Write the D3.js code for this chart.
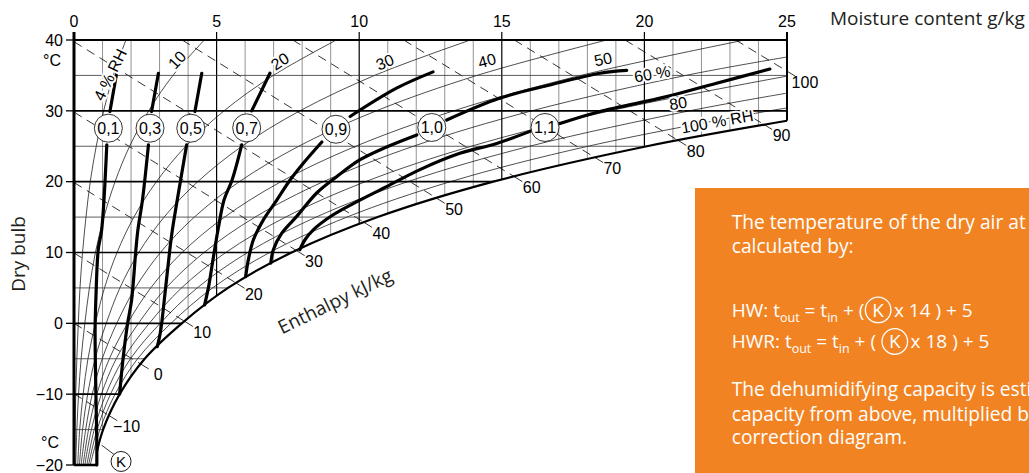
<!DOCTYPE html>
<html><head><meta charset="utf-8">
<script src="https://cdn.jsdelivr.net/npm/d3@7/dist/d3.min.js"></script>
<style>
html,body{margin:0;padding:0;background:#fff;overflow:hidden}
svg{display:block}
</style></head><body>
<svg id="chart" width="1029" height="473"></svg>
<script>
// ---------------- data (moisture g/kg, dry bulb °C) ----------------
const moistureTicks = [0, 5, 10, 15, 20, 25];
const temperatureTicks = [40, 30, 20, 10, 0, -10, -20];
const moistureGrid = [1,2,3,4,5,6,7,8,9,10,11,12,13,14,15,16,17,18,19,20,21,22,23,24];
const isothermTemps = [-15, -10, -5, 0, 5, 10, 15, 20, 25, 30, 35];

// saturation (100 % RH) curve [moisture, temp]
const satCurve = [[0.80,-18.2],[1.02,-15],[1.60,-10],[2.48,-5],[3.78,0],[5.40,5],[7.63,10],[10.65,15],[14.70,20],[20.09,25],[25,28.6]];

// relative humidity lines [moisture, temp]
const rh4  = [[0.03,-20],[0.04,-15],[0.06,-10],[0.10,-5],[0.15,0],[0.21,5],[0.30,10],[0.42,15],[0.57,20],[0.78,25],[1.04,30],[1.38,35],[1.82,40]];
const rh10 = [[0.06,-20],[0.10,-15],[0.16,-10],[0.25,-5],[0.38,0],[0.54,5],[0.75,10],[1.05,15],[1.44,20],[1.95,25],[2.62,30],[3.47,35],[4.57,40]];
const rh20 = [[0.13,-20],[0.20,-15],[0.32,-10],[0.49,-5],[0.75,0],[1.07,5],[1.51,10],[2.10,15],[2.89,20],[3.92,25],[5.26,30],[6.99,35],[9.20,40]];
const rh30 = [[0.19,-20],[0.30,-15],[0.48,-10],[0.74,-5],[1.13,0],[1.61,5],[2.27,10],[3.16,15],[4.34,20],[5.89,25],[7.92,30],[10.54,35],[13.90,40]];
const rh40 = [[0.25,-20],[0.41,-15],[0.64,-10],[0.99,-5],[1.50,0],[2.15,5],[3.03,10],[4.22,15],[5.80,20],[7.88,25],[10.60,30],[14.13,35],[18.68,40]];
const rh50 = [[0.32,-20],[0.51,-15],[0.80,-10],[1.24,-5],[1.88,0],[2.69,5],[3.79,10],[5.28,15],[7.26,20],[9.88,25],[13.31,30],[17.77,35],[23.52,40]];
const rh60 = [[0.38,-20],[0.61,-15],[0.96,-10],[1.48,-5],[2.26,0],[3.23,5],[4.56,10],[6.35,15],[8.74,20],[11.90,25],[16.05,30],[21.45,35],[25,37.6]];
const rh70 = [[0.45,-20],[0.71,-15],[1.12,-10],[1.73,-5],[2.64,0],[3.77,5],[5.32,10],[7.42,15],[10.22,20],[13.93,25],[18.80,30],[25,34.9]];
const rh80 = [[0.51,-20],[0.81,-15],[1.28,-10],[1.98,-5],[3.02,0],[4.32,5],[6.09,10],[8.49,15],[11.70,20],[15.97,25],[21.58,30],[25,32.5]];
const rh90 = [[0.57,-20],[0.91,-15],[1.44,-10],[2.23,-5],[3.40,0],[4.86,5],[6.86,10],[9.57,15],[13.20,20],[18.02,25],[24.38,30],[25,30.4]];

// enthalpy lines kJ/kg: start and end [moisture, temp]
const enthalpyValues = [-10, 0, 10, 20, 30, 40, 50, 60, 70, 80, 90, 100];
const enthalpyStart = [[0,-9.94],[0,0],[0,9.94],[0,19.88],[0,29.82],[0,39.76],[3.79,40],[7.67,40],[11.56,40],[15.44,40],[19.32,40],[23.20,40]];
const enthalpyEnd   = [[1.22,-13.0],[2.32,-5.7],[3.87,0.3],[5.68,5.7],[7.79,10.3],[10.15,14.3],[12.7,17.7],[15.42,20.75],[18.25,23.45],[21.17,25.85],[24.18,28.1],[25,35.6]];

// K correction curves [moisture, temp]
const kLabels = ['0,1','0,3','0,5','0,7','0,9','1,0','1,1'];
const k01Upper = [[1.26,29.9],[1.50,35.4]];
const k01Lower = [[1.15,25.2],[0.97,13.2],[0.85,10.4],[0.77,3.8],[0.74,-0.9],[0.77,-10.4],[0.80,-16.5],[0.80,-20]];
const k03Upper = [[2.72,29.9],[2.96,35.3]];
const k03Lower = [[2.61,25.2],[2.40,17.4],[2.24,13.2],[2.17,10.4],[2.02,3.3],[1.88,0],[1.72,-5],[1.60,-10]];
const k05Upper = [[4.24,29.9],[4.48,35.3]];
const k05Lower = [[3.95,25.2],[3.62,17.4],[3.45,13.2],[3.36,10.4],[3.19,4.2],[3.04,-1],[2.92,-3.3]];
const k07Upper = [[6.23,30.0],[6.87,35.3]];
const k07Lower = [[5.88,25.2],[5.54,20.2],[5.26,17.4],[5.05,13.2],[4.87,8.9],[4.73,5.4],[4.58,2.6]];
const k09Upper = [[9.68,29.2],[11.31,33.2],[12.59,35.5]];
const k09Lower = [[8.69,25.6],[8.04,22.6],[7.57,20.2],[7.11,17.4],[6.64,14.6],[6.29,11.8],[6.11,8.9],[6.02,6.6]];
const k10Upper = [[13.07,28.7],[14.94,31.8],[16.69,33.65],[18.44,35.3],[19.38,35.7]];
const k10Lower = [[12.02,26.6],[10.96,24.9],[10.03,23.1],[9.21,20.7],[8.51,18.4],[7.81,15.1],[7.28,12.7],[6.99,10.4],[6.90,8.5]];
const k11Upper = [[17.04,28.2],[18.44,29.9],[20.78,32.0],[22.53,33.9],[24.40,35.9]];
const k11Lower = [[15.99,27.1],[14.82,25.4],[13.53,24.0],[12.13,21.7],[10.96,19.3],[9.79,16.9],[8.98,15.05],[8.39,13.2],[8.10,11.8],[7.92,10.4]];

// ---------------- drawing ----------------
const svg = d3.select('#chart');
const x = d3.scaleLinear().domain([0, 25]).range([74, 787]);
const y = d3.scaleLinear().domain([-20, 40]).range([465, 40]);
const smooth = d3.line().x(d => x(d[0])).y(d => y(d[1])).curve(d3.curveCatmullRom.alpha(0.5));
const NUM = '"Liberation Sans", Arial, sans-serif';
const TXT = '"Open Sans", "Noto Sans", sans-serif';

// chart region clip
const satD = smooth(satCurve);
const regionD = `M${x(0)},${y(-20)}L${x(satCurve[0][0])},${y(-20)}` + satD.replace(/^M/, 'L') +
  `L${x(25)},${y(40)}L${x(0)},${y(40)}Z`;
const defs = svg.append('defs');
defs.append('clipPath').attr('id', 'region').append('path').attr('d', regionD);
defs.append('clipPath').attr('id', 'box').append('rect').attr('x', 695).attr('y', 188).attr('width', 334).attr('height', 285);

const inner = svg.append('g').attr('clip-path', 'url(#region)');

// vertical moisture grid
inner.selectAll('line.vg').data(moistureGrid).join('line').attr('class', 'vg')
  .attr('x1', d => x(d)).attr('x2', d => x(d)).attr('y1', y(-20)).attr('y2', y(40))
  .attr('stroke', d => d % 5 === 0 ? '#000' : '#777')
  .attr('stroke-width', d => d % 5 === 0 ? 1.2 : 0.8);

// relative humidity curves
const rhCurves = [rh4, rh10, rh20, rh30, rh40, rh50, rh60, rh70, rh80, rh90];
inner.selectAll('path.rh').data(rhCurves).join('path').attr('class', 'rh')
  .attr('d', smooth).attr('fill', 'none').attr('stroke', '#000').attr('stroke-width', 0.7);

// enthalpy lines (dashed)
const ent = enthalpyValues.map((h, i) => {
  const s = [x(enthalpyStart[i][0]), y(enthalpyStart[i][1])];
  const e = [x(enthalpyEnd[i][0]), y(enthalpyEnd[i][1])];
  const L = Math.hypot(e[0] - s[0], e[1] - s[1]);
  const d = [(e[0] - s[0]) / L, (e[1] - s[1]) / L];
  return {h, s, e, d};
});
inner.selectAll('line.ent').data(ent).join('line').attr('class', 'ent')
  .attr('x1', d => d.s[0]).attr('y1', d => d.s[1])
  .attr('x2', d => d.e[0] + d.d[0] * 3).attr('y2', d => d.e[1] + d.d[1] * 3)
  .attr('stroke', '#000').attr('stroke-width', 0.8).attr('stroke-dasharray', '9,6');

// isotherms
inner.selectAll('line.iso').data(isothermTemps).join('line').attr('class', 'iso')
  .attr('x1', x(0)).attr('x2', x(25)).attr('y1', d => y(d)).attr('y2', d => y(d))
  .attr('stroke', d => d % 10 === 0 ? '#000' : '#333')
  .attr('stroke-width', d => d % 10 === 0 ? 1.6 : 0.8);

// enthalpy leaders and labels
svg.selectAll('line.lead').data(ent).join('line').attr('class', 'lead')
  .attr('x1', d => d.e[0]).attr('y1', d => d.e[1])
  .attr('x2', d => d.e[0] + d.d[0] * 10).attr('y2', d => d.e[1] + d.d[1] * 10)
  .attr('stroke', '#000').attr('stroke-width', 0.8);
svg.selectAll('text.entl').data(ent).join('text').attr('class', 'entl')
  .attr('x', d => d.e[0] + d.d[0] * 21).attr('y', d => d.e[1] + d.d[1] * 21)
  .attr('dy', '0.36em').attr('text-anchor', 'middle')
  .style('font-family', NUM).style('font-size', '16px')
  .text(d => d.h < 0 ? '\u2212' + Math.abs(d.h) : d.h);

// boundary
svg.append('path').attr('d', satD).attr('fill', 'none').attr('stroke', '#000').attr('stroke-width', 2.2);
svg.append('line').attr('x1', x(0)).attr('x2', x(0)).attr('y1', y(-20)).attr('y2', 32)
  .attr('stroke', '#000').attr('stroke-width', 3);
svg.append('line').attr('x1', x(0)).attr('x2', x(25)).attr('y1', y(40)).attr('y2', y(40))
  .attr('stroke', '#000').attr('stroke-width', 2);
svg.append('line').attr('x1', x(25)).attr('x2', x(25)).attr('y1', 32).attr('y2', y(28.6))
  .attr('stroke', '#000').attr('stroke-width', 2);
svg.append('line').attr('x1', x(0)).attr('x2', x(satCurve[0][0])).attr('y1', y(-20)).attr('y2', y(-20))
  .attr('stroke', '#000').attr('stroke-width', 2.5);

// K curves
const kUpper = [k01Upper, k03Upper, k05Upper, k07Upper, k09Upper, k10Upper, k11Upper];
const kLower = [k01Lower, k03Lower, k05Lower, k07Lower, k09Lower, k10Lower, k11Lower];
const kg = svg.append('g').attr('fill', 'none').attr('stroke', '#000').attr('stroke-width', 3.2).attr('stroke-linecap', 'round');
kUpper.forEach(c => kg.append('path').attr('d', smooth(c)));
kLower.forEach(c => kg.append('path').attr('d', smooth(c)));
kLabels.forEach((lab, i) => {
  const a = kLower[i][0], b = kUpper[i][0];
  const cx = (x(a[0]) + x(b[0])) / 2, cy = (y(a[1]) + y(b[1])) / 2;
  svg.append('circle').attr('cx', cx).attr('cy', cy).attr('r', 14)
    .attr('fill', '#fff').attr('stroke', '#000').attr('stroke-width', 0.8);
  svg.append('text').attr('x', cx).attr('y', cy).attr('dy', '0.36em').attr('text-anchor', 'middle')
    .style('font-family', NUM).style('font-size', '16px').text(lab);
});

// RH labels
const rhLabelSpots = [
  {t: '4 % RH', m: 1.26, c: 35.1, a: -64},
  {t: '10', m: 3.61, c: 37.2, a: -48},
  {t: '20', m: 7.22, c: 37.0, a: -33},
  {t: '30', m: 10.90, c: 36.9, a: -22},
  {t: '40', m: 14.48, c: 37.1, a: -15},
  {t: '50', m: 18.55, c: 37.3, a: -12},
  {t: '60 %', m: 20.27, c: 35.25, a: -10},
  {t: '80', m: 21.18, c: 31.1, a: -9},
  {t: '100 % RH', m: 22.55, c: 28.5, a: -10}
];
svg.selectAll('text.rhl').data(rhLabelSpots).join('text').attr('class', 'rhl')
  .attr('transform', d => `translate(${x(d.m)},${y(d.c)}) rotate(${d.a})`)
  .attr('dy', '0.36em').attr('text-anchor', 'middle')
  .style('font-family', NUM).style('font-size', '16px')
  .attr('stroke', '#fff').attr('stroke-width', 4).attr('paint-order', 'stroke').attr('fill', '#000')
  .text(d => d.t);

// axes ticks and labels
svg.selectAll('line.tt').data(moistureTicks).join('line').attr('class', 'tt')
  .attr('x1', d => x(d)).attr('x2', d => x(d)).attr('y1', 32).attr('y2', y(40))
  .attr('stroke', '#000').attr('stroke-width', d => d === 0 || d === 25 ? 2 : 1.2);
svg.selectAll('text.tl').data(moistureTicks).join('text').attr('class', 'tl')
  .attr('x', d => x(d)).attr('y', 26.5).attr('text-anchor', 'middle')
  .style('font-family', NUM).style('font-size', '16px').text(d => d);
svg.selectAll('line.lt').data(temperatureTicks).join('line').attr('class', 'lt')
  .attr('x1', 66).attr('x2', x(0)).attr('y1', d => y(d)).attr('y2', d => y(d))
  .attr('stroke', '#000').attr('stroke-width', 1.3);
svg.selectAll('text.ll').data(temperatureTicks).join('text').attr('class', 'll')
  .attr('x', 63).attr('y', d => y(d)).attr('dy', '0.36em').attr('text-anchor', 'end')
  .style('font-family', NUM).style('font-size', '16px')
  .text(d => d < 0 ? '\u2212' + Math.abs(d) : d);
svg.append('text').attr('x', 52).attr('y', 66).attr('text-anchor', 'middle')
  .style('font-family', NUM).style('font-size', '16px').text('°C');
svg.append('text').attr('x', 50).attr('y', 448).attr('text-anchor', 'middle')
  .style('font-family', NUM).style('font-size', '16px').text('°C');

// K marker at bottom
const kMark = {m: 1.65, t: -19.5};
svg.append('line').attr('x1', x(0.97)).attr('y1', y(-17.2)).attr('x2', x(kMark.m) - 7).attr('y2', y(kMark.t) - 7)
  .attr('stroke', '#000').attr('stroke-width', 0.8);
svg.append('circle').attr('cx', x(kMark.m)).attr('cy', y(kMark.t)).attr('r', 10)
  .attr('fill', '#fff').attr('stroke', '#000').attr('stroke-width', 0.9);
svg.append('text').attr('x', x(kMark.m)).attr('y', y(kMark.t)).attr('dy', '0.36em').attr('text-anchor', 'middle')
  .style('font-family', NUM).style('font-size', '15px').text('K');

// axis titles
svg.append('text').attr('x', 830).attr('y', 25)
  .style('font-family', TXT).style('font-size', '19px').attr('fill', '#231f20').text('Moisture content g/kg');
svg.append('text').attr('transform', 'translate(25,254) rotate(-90)').attr('text-anchor', 'middle')
  .style('font-family', TXT).style('font-size', '19px').attr('fill', '#231f20').text('Dry bulb');
svg.append('text').attr('transform', 'translate(335,301) rotate(-26)').attr('text-anchor', 'middle').attr('dy', '0.36em')
  .style('font-family', TXT).style('font-size', '19px').attr('fill', '#231f20').text('Enthalpy kJ/kg');

// orange info box (its text runs past the right edge, as in the source)
svg.append('rect').attr('x', 695).attr('y', 188).attr('width', 334).attr('height', 285).attr('fill', '#F28322');
const boxG = svg.append('g').attr('clip-path', 'url(#box)');
const boxText = (txt, yy) => boxG.append('text').attr('x', 731.7).attr('y', yy).attr('fill', '#fff')
  .style('font-family', TXT).style('font-size', '19.2px').text(txt);
boxText('The temperature of the dry air at reactivation outlet can be', 229.3);
boxText('calculated by:', 253);
boxText('The dehumidifying capacity is estimated as the nominal', 396);
boxText('capacity from above, multiplied by the factor from the', 420.5);
boxText('correction diagram.', 444);

function formula(yy, parts) {
  const t = boxG.append('text').attr('x', 731.7).attr('y', yy).attr('fill', '#fff')
    .style('font-family', TXT).style('font-size', '19px').style('white-space', 'pre');
  let prevSub = false, idx = 0, kIdx = -1, prevK = false;
  parts.forEach(p => {
    const ts = t.append('tspan').text(p.t);
    if (p.sub) { ts.style('font-size', '12.5px').attr('dy', 5); }
    else if (prevSub) { ts.attr('dy', -5); }
    if (p.k) { ts.attr('dx', 8); kIdx = idx; }
    if (prevK) ts.attr('dx', 10);
    prevSub = !!p.sub; prevK = !!p.k;
    idx += p.t.length;
  });
  const ext = t.node().getExtentOfChar(kIdx);
  boxG.append('circle').attr('cx', ext.x + ext.width / 2).attr('cy', yy - 6.8).attr('r', 12.8)
    .attr('fill', 'none').attr('stroke', '#fff').attr('stroke-width', 1.3);
}
formula(316.7, [{t: 'HW: t'}, {t: 'out', sub: 1}, {t: ' = t'}, {t: 'in', sub: 1}, {t: ' + ('}, {t: 'K', k: 1}, {t: 'x 14 ) + 5'}]);
formula(348.3, [{t: 'HWR: t'}, {t: 'out', sub: 1}, {t: ' = t'}, {t: 'in', sub: 1}, {t: ' + ( '}, {t: 'K', k: 1}, {t: 'x 18 ) + 5'}]);
</script>
</body></html>
